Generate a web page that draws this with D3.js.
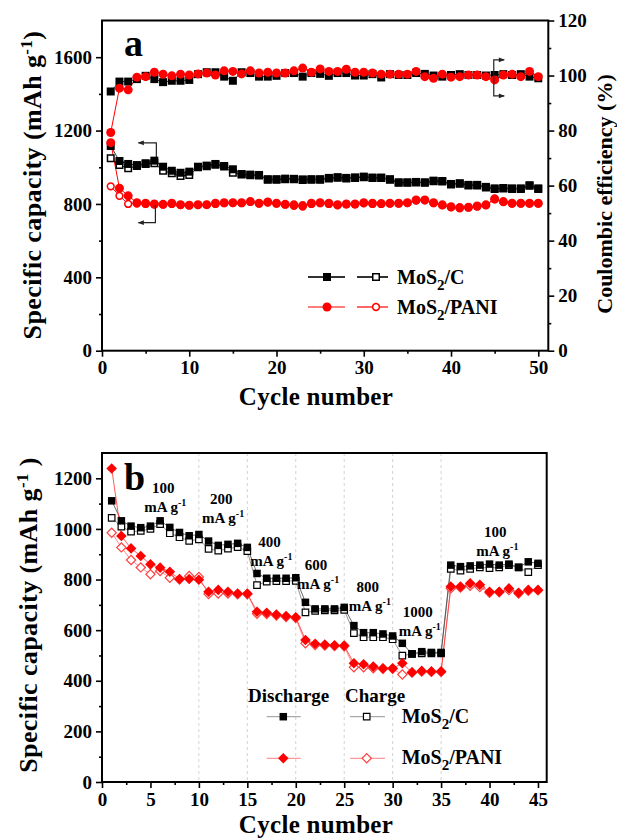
<!DOCTYPE html>
<html>
<head>
<meta charset="utf-8">
<script src="https://cdn.jsdelivr.net/npm/d3@7"></script>
<style>
  body { margin: 0; background: #fff; }
  svg { display: block; }
  svg text { font-family: "Liberation Serif", "Times New Roman", Times, serif; font-weight: bold; }
</style>
</head>
<body>
<svg id="chart" width="617" height="839"></svg>
<script>
// ---------- Panel a: cycling at constant current ----------
const cyclesA = [1,2,3,4,5,6,7,8,9,10,11,12,13,14,15,16,17,18,19,20,21,22,23,24,25,
                 26,27,28,29,30,31,32,33,34,35,36,37,38,39,40,41,42,43,44,45,46,47,48,49,50];
// specific capacity, mAh g-1
const capDisC = [1116,1034,1018,1012,1022,1036,1003,981,970,976,1003,1009,1018,1007,989,963,960,958,935,935,
                 938,937,934,935,935,942,946,942,945,949,944,944,935,918,918,920,918,927,925,909,
                 913,904,904,893,885,887,885,885,902,885];
const capChgC = [1049,1012,994,1007,1018,1022,981,967,952,958,1000,1006,1014,1004,970,960,957,955,932,932,
                 935,934,931,932,932,939,943,939,942,946,941,941,932,915,915,917,915,924,922,906,
                 910,901,901,890,882,884,882,882,899,882];
const capDisPANI = [1134,886,844,807,804,800,798,804,796,793,796,796,804,807,807,807,813,804,811,804,
                    798,795,791,804,807,804,796,800,800,807,804,802,804,804,807,822,822,807,795,785,
                    780,782,789,795,826,813,804,804,804,804];
const capChgPANI = [896,844,800,802,800,797,796,800,794,792,794,795,800,804,805,804,812,802,808,802,
                    796,790,786,800,804,800,792,798,798,803,800,800,802,802,805,818,820,804,792,782,
                    776,780,786,792,830,810,802,802,802,802];
// coulombic efficiency, %
const ceC = [94.2,97.8,97.8,98.7,99.9,98.7,97.6,98.1,98.1,98.4,100.5,101.2,101.2,99.6,98.1,101.2,100.9,99.6,99.6,99.9,
             100.9,100.9,99.6,100.9,100.6,99.9,100.9,100.9,100.0,100.0,100.5,99.3,100.5,100.2,100.2,100.9,100.6,100.0,99.6,100.2,
             100.5,100.2,100.2,100.0,100.2,100.5,100.2,100.5,99.6,99.0];
const cePANI = [79.3,95.4,94.8,99.4,99.6,101.2,100.5,99.9,100.5,100.2,100.6,100.9,100.2,101.7,101.5,100.6,101.7,100.9,101.2,100.9,
                100.9,101.7,102.7,101.2,102.4,101.5,101.5,102.3,101.2,101.2,100.9,100.5,100.5,100.5,100.5,101.5,99.6,99.0,100.5,99.4,
                99.6,100.2,100.2,99.6,98.4,100.2,100.5,99.6,101.5,99.6];
const ticksAx = [0,10,20,30,40,50];
const ticksAy = [0,400,800,1200,1600];
const ticksAce = [0,20,40,60,80,100,120];

// ---------- Panel b: rate capability ----------
const cyclesB = [1,2,3,4,5,6,7,8,9,10,11,12,13,14,15,16,17,18,19,20,21,22,23,
                 24,25,26,27,28,29,30,31,32,33,34,35,36,37,38,39,40,41,42,43,44,45];
const rateDisC = [1111,1032,1011,1005,1011,1032,1006,986,973,978,952,935,939,943,927,824,805,805,805,807,
                  710,684,684,684,690,618,590,590,585,577,548,506,515,512,512,857,851,854,857,861,
                  857,861,848,870,864];
const rateChgC = [1044,1009,989,992,1000,1019,983,967,953,959,921,914,922,928,912,778,792,794,794,795,
                  670,676,678,678,680,588,572,572,572,564,499,506,508,508,508,842,835,842,848,845,
                  848,857,848,829,857];
const rateDisPANI = [1239,972,923,893,860,847,831,802,802,799,752,759,752,745,745,673,669,662,656,651,
                     561,546,543,540,539,469,465,456,449,449,469,433,439,437,437,772,772,785,779,752,
                     752,765,748,759,759];
const rateChgPANI = [985,927,877,848,821,834,807,800,814,810,743,745,745,742,742,665,664,658,652,648,
                     548,541,539,537,536,453,453,449,447,447,425,433,436,435,435,765,768,775,770,748,
                     750,758,745,755,757];
const currentLabels = ["100","200","400","600","800","1000","100"];
const stepBoundaries = [10,15,20,25,30,35];
const ticksBx = [0,5,10,15,20,25,30,35,40,45];
const ticksBy = [0,200,400,600,800,1000,1200];

// ---------- drawing ----------
const FONT = '"Liberation Serif", "Times New Roman", Times, serif';
const svg = d3.select("#chart");
svg.append("rect").attr("width", 617).attr("height", 839).attr("fill", "#fff");

const defs = svg.append("defs");
defs.append("marker").attr("id", "arr").attr("viewBox", "0 0 10 10")
  .attr("refX", 9).attr("refY", 5).attr("markerWidth", 7).attr("markerHeight", 6)
  .attr("markerUnits", "userSpaceOnUse").attr("orient", "auto")
  .append("path").attr("d", "M0,1 L10,5 L0,9 Z").attr("fill", "#222");

const intFmt = d3.format("d");

function styleAxis(g, size) {
  g.attr("font-family", FONT).attr("font-size", size).attr("font-weight", "bold");
  g.select(".domain").remove();
  g.selectAll(".tick line").attr("stroke", "#000").attr("stroke-width", 1.6);
  g.selectAll(".tick text").attr("fill", "#000").style("font-family", FONT).style("font-size", size + "px");
}

function addText(g, x, y, parts, opts) {
  const t = g.append("text").attr("x", x).attr("y", y)
    .style("font-family", FONT).style("font-weight", "bold")
    .attr("font-size", opts.size).attr("fill", "#000")
    .attr("text-anchor", opts.anchor || "start");
  if (opts.spacing) t.attr("letter-spacing", opts.spacing);
  if (opts.rotate) t.attr("transform", `rotate(${opts.rotate},${x},${y})`);
  parts.forEach(p => {
    const s = t.append("tspan").text(p.t);
    if (p.dy) s.attr("dy", p.dy);
    if (p.size) s.attr("font-size", p.size);
  });
  return t;
}

const squareSym = s => d3.symbol(d3.symbolSquare, s * s)();
const circleSym = r => d3.symbol(d3.symbolCircle, Math.PI * r * r)();

function drawLine(g, xs, ys, x, y, color, w) {
  const pts = xs.map((c, i) => [c, ys[i]]);
  g.append("path").datum(pts)
    .attr("d", d3.line().x(d => x(d[0])).y(d => y(d[1])))
    .attr("fill", "none").attr("stroke", color).attr("stroke-width", w);
}
function drawMarkers(g, xs, ys, x, y, m) {
  const pts = xs.map((c, i) => [c, ys[i]]);
  g.selectAll(null).data(pts).join("path")
    .attr("transform", d => `translate(${x(d[0])},${y(d[1])}) rotate(${m.rot || 0})`)
    .attr("d", m.d).attr("fill", m.fill).attr("stroke", m.stroke || "none")
    .attr("stroke-width", m.sw || 0);
}

// ===== panel a =====
const A = { left: 102, right: 548.3, top: 20.5, bottom: 350.7 };
const xA = d3.scaleLinear().domain([0, 51.15]).range([A.left, A.right]);
const yA = d3.scaleLinear().domain([0, 1800]).range([A.bottom, A.top]);
const yCE = d3.scaleLinear().domain([0, 120]).range([A.bottom, A.top]);
const gA = svg.append("g");

styleAxis(gA.append("g").attr("transform", `translate(0,${A.bottom})`)
  .call(d3.axisBottom(xA).tickValues(ticksAx).tickFormat(intFmt).tickSize(6).tickPadding(4)), 19);
styleAxis(gA.append("g").attr("transform", `translate(0,${A.bottom})`)
  .call(d3.axisBottom(xA).tickValues([5,15,25,35,45]).tickSize(3).tickFormat("")), 19);
styleAxis(gA.append("g").attr("transform", `translate(${A.left},0)`)
  .call(d3.axisLeft(yA).tickValues(ticksAy).tickFormat(intFmt).tickSize(6).tickPadding(4)), 19);
styleAxis(gA.append("g").attr("transform", `translate(${A.left},0)`)
  .call(d3.axisLeft(yA).tickValues([200,600,1000,1400]).tickSize(3).tickFormat("")), 19);
styleAxis(gA.append("g").attr("transform", `translate(${A.right},0)`)
  .call(d3.axisRight(yCE).tickValues(ticksAce).tickFormat(intFmt).tickSize(6).tickPadding(4)), 19);
styleAxis(gA.append("g").attr("transform", `translate(${A.right},0)`)
  .call(d3.axisRight(yCE).tickValues([10,30,50,70,90,110]).tickSize(3).tickFormat("")), 19);

gA.append("rect").attr("x", A.left).attr("y", A.top)
  .attr("width", A.right - A.left).attr("height", A.bottom - A.top)
  .attr("fill", "none").attr("stroke", "#000").attr("stroke-width", 2);

// capacity and efficiency curves
drawLine(gA, cyclesA, capChgC, xA, yA, "#333", 1);
drawLine(gA, cyclesA, capDisC, xA, yA, "#333", 1);
drawLine(gA, cyclesA, ceC, xA, yCE, "#333", 1);
drawLine(gA, cyclesA, capChgPANI, xA, yA, "#ff0000", 1);
drawLine(gA, cyclesA, capDisPANI, xA, yA, "#ff0000", 1);
drawLine(gA, cyclesA, cePANI, xA, yCE, "#ff0000", 1);
drawMarkers(gA, cyclesA, capChgC, xA, yA, { d: squareSym(6.5), fill: "#fff", stroke: "#000", sw: 1.5 });
drawMarkers(gA, cyclesA, capDisC, xA, yA, { d: squareSym(8), fill: "#000" });
drawMarkers(gA, cyclesA, ceC, xA, yCE, { d: squareSym(8), fill: "#000" });
drawMarkers(gA, cyclesA, capChgPANI, xA, yA, { d: circleSym(3.4), fill: "#fff", stroke: "#ff0000", sw: 1.5 });
drawMarkers(gA, cyclesA, capDisPANI, xA, yA, { d: circleSym(4.5), fill: "#ff0000" });
drawMarkers(gA, cyclesA, cePANI, xA, yCE, { d: circleSym(4.5), fill: "#ff0000" });

// axis pointers
const arrowPath = pts => d3.line()(pts);
gA.append("path").attr("d", arrowPath([[xA(6.23), yA(1056)], [xA(6.23), yA(1133)], [xA(4.17), yA(1133)]]))
  .attr("fill", "none").attr("stroke", "#222").attr("stroke-width", 1.2).attr("marker-end", "url(#arr)");
gA.append("path").attr("d", arrowPath([[xA(6.12), yA(794)], [xA(6.12), yA(698)], [xA(4.17), yA(698)]]))
  .attr("fill", "none").attr("stroke", "#222").attr("stroke-width", 1.2).attr("marker-end", "url(#arr)");
gA.append("path").attr("d", arrowPath([[xA(44.9), yCE(99.2)], [xA(44.9), yCE(105.7)], [xA(46.1), yCE(105.7)]]))
  .attr("fill", "none").attr("stroke", "#222").attr("stroke-width", 1.2).attr("marker-end", "url(#arr)");
gA.append("path").attr("d", arrowPath([[xA(44.9), yCE(99.2)], [xA(44.9), yCE(92.6)], [xA(46.1), yCE(92.6)]]))
  .attr("fill", "none").attr("stroke", "#222").attr("stroke-width", 1.2).attr("marker-end", "url(#arr)");

// titles
addText(gA, 124, 56, [{ t: "a" }], { size: 38 });
addText(gA, 316, 405, [{ t: "Cycle number" }], { size: 25, anchor: "middle", spacing: 0.3 });
addText(gA, 41, 185, [{ t: "Specific capacity (mAh g" }, { t: "-1", dy: -9, size: 17 }, { t: ")", dy: 9 }],
  { size: 26, anchor: "middle", rotate: -90, spacing: 0.4 });
addText(gA, 612, 194, [{ t: "Coulombic efficiency (%)" }], { size: 22, anchor: "middle", rotate: -90 });

// legend a
const legA = gA.append("g");
[[277, "#333", 2, "C"], [307, "#ff0000", 1.2, "PANI"]].forEach(([ly, col, lw, name], i) => {
  legA.append("line").attr("x1", 308).attr("x2", 345).attr("y1", ly).attr("y2", ly).attr("stroke", col).attr("stroke-width", lw);
  legA.append("line").attr("x1", 357).attr("x2", 388).attr("y1", ly).attr("y2", ly).attr("stroke", col).attr("stroke-width", lw);
  if (i === 0) {
    drawMarkers(legA, [327], [ly], d => d, d => d, { d: squareSym(8), fill: "#000" });
    drawMarkers(legA, [376], [ly], d => d, d => d, { d: squareSym(6.5), fill: "#fff", stroke: "#000", sw: 1.5 });
  } else {
    drawMarkers(legA, [327], [ly], d => d, d => d, { d: circleSym(4.5), fill: "#ff0000" });
    drawMarkers(legA, [376], [ly], d => d, d => d, { d: circleSym(3.4), fill: "#fff", stroke: "#ff0000", sw: 1.5 });
  }
  addText(legA, 397, ly + 7, [{ t: "MoS" }, { t: "2", dy: 6, size: 15 }, { t: "/" + name, dy: -6 }], { size: 20 });
});

// ===== panel b =====
const B = { left: 102, right: 546.7, top: 453, bottom: 782 };
const xB = d3.scaleLinear().domain([0, 45.9]).range([B.left, B.right]);
const yB = d3.scaleLinear().domain([0, 1300]).range([B.bottom, B.top]);
const gB = svg.append("g");

gB.selectAll(null).data(stepBoundaries).join("line")
  .attr("x1", d => xB(d)).attr("x2", d => xB(d)).attr("y1", B.top).attr("y2", B.bottom)
  .attr("stroke", "#c8c8c8").attr("stroke-width", 0.8).attr("stroke-dasharray", "3,3");

styleAxis(gB.append("g").attr("transform", `translate(0,${B.bottom})`)
  .call(d3.axisBottom(xB).tickValues(ticksBx).tickFormat(intFmt).tickSize(6).tickPadding(5)), 19);
styleAxis(gB.append("g").attr("transform", `translate(0,${B.bottom})`)
  .call(d3.axisBottom(xB).tickValues([2.5,7.5,12.5,17.5,22.5,27.5,32.5,37.5,42.5]).tickSize(3).tickFormat("")), 19);
styleAxis(gB.append("g").attr("transform", `translate(${B.left},0)`)
  .call(d3.axisLeft(yB).tickValues(ticksBy).tickFormat(intFmt).tickSize(6).tickPadding(4)), 19);
styleAxis(gB.append("g").attr("transform", `translate(${B.left},0)`)
  .call(d3.axisLeft(yB).tickValues([100,300,500,700,900,1100]).tickSize(3).tickFormat("")), 19);

gB.append("rect").attr("x", B.left).attr("y", B.top)
  .attr("width", B.right - B.left).attr("height", B.bottom - B.top)
  .attr("fill", "none").attr("stroke", "#000").attr("stroke-width", 2);

const diamondSym = s => d3.symbol(d3.symbolSquare, s * s)();
drawLine(gB, cyclesB, rateChgC, xB, yB, "#777", 0.8);
drawLine(gB, cyclesB, rateDisC, xB, yB, "#444", 0.8);
drawLine(gB, cyclesB, rateChgPANI, xB, yB, "#ff7070", 0.8);
drawLine(gB, cyclesB, rateDisPANI, xB, yB, "#ff3030", 0.8);
drawMarkers(gB, cyclesB, rateChgC, xB, yB, { d: squareSym(6.5), fill: "#fff", stroke: "#000", sw: 1.2 });
drawMarkers(gB, cyclesB, rateDisC, xB, yB, { d: squareSym(7.5), fill: "#000" });
drawMarkers(gB, cyclesB, rateChgPANI, xB, yB, { d: diamondSym(6.5), rot: 45, fill: "#fff", stroke: "#ff4040", sw: 1.2 });
drawMarkers(gB, cyclesB, rateDisPANI, xB, yB, { d: diamondSym(7.5), rot: 45, fill: "#ff0000" });

// current density annotations (anchored in data units)
const labelAnchors = [[6.33, 1142], [12.3, 1097], [17.28, 927], [22.1, 838], [27.44, 752], [32.6, 651], [40.6, 967]];
currentLabels.forEach((lab, i) => {
  const [cx, cy] = labelAnchors[i];
  addText(gB, xB(cx), yB(cy), [{ t: lab }], { size: 15, anchor: "middle" });
  addText(gB, xB(cx) + 2, yB(cy) + 19, [{ t: "mA g" }, { t: "-1", dy: -6, size: 10 }], { size: 15, anchor: "middle" });
});

addText(gB, 124, 490, [{ t: "b" }], { size: 38 });
addText(gB, 316, 833, [{ t: "Cycle number" }], { size: 25, anchor: "middle", spacing: 0.3 });
addText(gB, 37, 615, [{ t: "Specific capacity (mAh g" }, { t: "-1", dy: -9, size: 17 }, { t: " )", dy: 9 }],
  { size: 26, anchor: "middle", rotate: -90, spacing: 0.4 });

// legend b
const legB = gB.append("g");
addText(legB, 248, 702, [{ t: "Discharge" }], { size: 19 });
addText(legB, 345, 702, [{ t: "Charge" }], { size: 19 });
[[716.7, "#888", "C"], [758.3, "#ff7070", "PANI"]].forEach(([ly, col, name], i) => {
  legB.append("line").attr("x1", 266.7).attr("x2", 300.7).attr("y1", ly).attr("y2", ly).attr("stroke", col).attr("stroke-width", 0.9);
  legB.append("line").attr("x1", 350).attr("x2", 385).attr("y1", ly).attr("y2", ly).attr("stroke", col).attr("stroke-width", 0.9);
  if (i === 0) {
    drawMarkers(legB, [283.3], [ly], d => d, d => d, { d: squareSym(7.5), fill: "#000" });
    drawMarkers(legB, [366.7], [ly], d => d, d => d, { d: squareSym(6.5), fill: "#fff", stroke: "#000", sw: 1.2 });
  } else {
    drawMarkers(legB, [283.3], [ly], d => d, d => d, { d: diamondSym(7.5), rot: 45, fill: "#ff0000" });
    drawMarkers(legB, [366.7], [ly], d => d, d => d, { d: diamondSym(6.5), rot: 45, fill: "#fff", stroke: "#ff4040", sw: 1.2 });
  }
  addText(legB, 401.7, ly + 6, [{ t: "MoS" }, { t: "2", dy: 6, size: 15 }, { t: "/" + name, dy: -6 }], { size: 20 });
});
</script>
</body>
</html>
